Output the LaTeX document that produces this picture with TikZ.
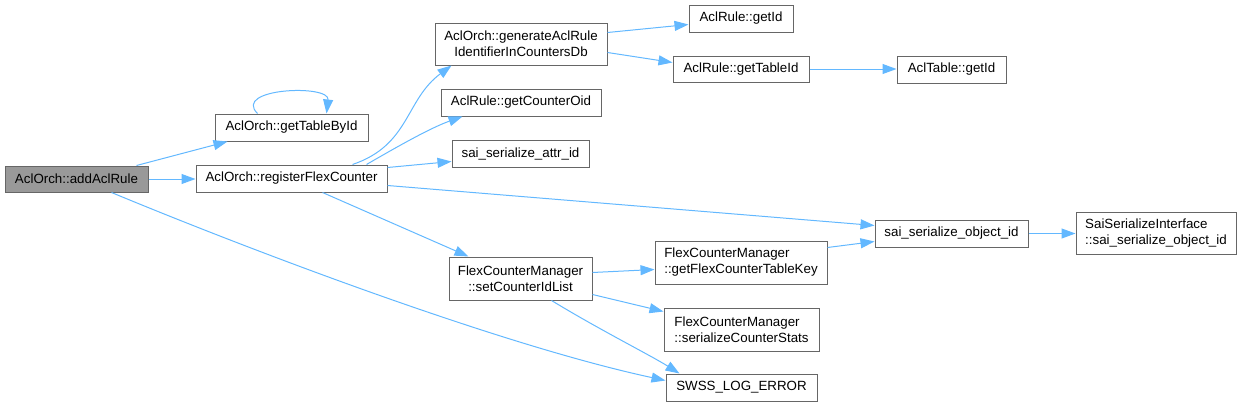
\documentclass[tikz,border=0pt]{standalone}
\usepackage{fontspec}
\setmainfont{Liberation Sans}
\usetikzlibrary{arrows.meta,calc}
\definecolor{edgeblue}{HTML}{63B8FF}
\definecolor{boxborder}{HTML}{666666}
\definecolor{rootfill}{HTML}{999999}
\tikzset{
  fn/.style={draw=boxborder, fill=white, line width=0.75pt, inner sep=0pt, font=\fontsize{10pt}{12pt}\selectfont, text=black},
  rootfn/.style={fn, fill=rootfill},
  call/.style={draw=edgeblue, line width=0.75pt, -{Triangle[length=10.5pt,width=7.5pt]}},
}
\begin{document}
\begin{tikzpicture}[x=0.75pt,y=-0.75pt]
\useasboundingbox (0,0) rectangle (1242,407);
% nodes
\node[rootfn, minimum width=107.25pt, minimum height=19.5pt] (add) at (76.5,179) {AclOrch::addAclRule};
\node[fn, minimum width=114.75pt, minimum height=20.25pt] (gtb) at (291.5,127.5) {AclOrch::getTableById};
\node[fn, minimum width=143.25pt, minimum height=20.25pt] (reg) at (291.5,178.5) {AclOrch::registerFlexCounter};
\node[fn, minimum width=129pt, minimum height=31.5pt, align=center] (gen) at (521,44) {AclOrch::generateAclRule\\IdentifierInCountersDb};
\node[fn, minimum width=120pt, minimum height=20.25pt] (gco) at (521,102.5) {AclRule::getCounterOid};
\node[fn, minimum width=102.75pt, minimum height=20.25pt] (attr) at (520.5,153.5) {sai\_serialize\_attr\_id};
\node[fn, minimum width=107.25pt, minimum height=32.25pt, align=center] (sci) at (520.5,278.5) {FlexCounterManager\\::setCounterIdList};
\node[fn, minimum width=78pt, minimum height=20.25pt] (rid) at (741,18.5) {AclRule::getId};
\node[fn, minimum width=102pt, minimum height=19.5pt] (rtid) at (741,69) {AclRule::getTableId};
\node[fn, minimum width=129pt, minimum height=32.25pt, align=left] (fctk) at (741,262.5) {FlexCounterManager\\::getFlexCounterTableKey};
\node[fn, minimum width=116.25pt, minimum height=32.25pt, align=left] (scs) at (741.5,329.5) {FlexCounterManager\\::serializeCounterStats};
\node[fn, minimum width=113.25pt, minimum height=20.25pt] (swss) at (741.5,387.5) {SWSS\_LOG\_ERROR};
\node[fn, minimum width=81.75pt, minimum height=20.25pt] (tid) at (951.5,69.5) {AclTable::getId};
\node[fn, minimum width=114.75pt, minimum height=20.25pt] (obj) at (951.5,233.5) {sai\_serialize\_object\_id};
\node[fn, minimum width=120pt, minimum height=31.5pt, align=left] (ssi) at (1156,233) {SaiSerializeInterface\\::sai\_serialize\_object\_id};
% edges
\draw[call] ($(add.north west)+(132,0)$) -- ($(gtb.south west)+(13,0)$);
\draw[call] (add.east) -- (reg.west |- add.east);
\draw[call] ($(add.south west)+(107,0)$) .. controls (250,250) and (500,345) .. ($(swss.north west)+(0,7)$);
\draw[call] ($(gtb.north west)+(43,0)$) .. controls (232,88) and (330,84) .. ($(gtb.north west)+(112,0)$);
\draw[call] ($(reg.north west)+(157,0)$) .. controls (410,145) and (405,100) .. ($(gen.south west)+(17,0)$);
\draw[call] ($(reg.north west)+(171,0)$) .. controls (395,148) and (430,128) .. ($(gco.south west)+(22,0)$);
\draw[call] ($(reg.north east)+(0,3)$) -- ($(attr.north west)+(0,22)$);
\draw[call] ($(reg.north east)+(0,21)$) -- ($(obj.north west)+(0,6)$);
\draw[call] ($(reg.south west)+(127,0)$) -- ($(sci.north west)+(20,0)$);
\draw[call] ($(gen.north east)+(0,10)$) -- ($(rid.north west)+(0,20)$);
\draw[call] ($(gen.north east)+(0,30)$) -- ($(rtid.north west)+(0,7)$);
\draw[call] (rtid.east) -- (tid.west |- rtid.east);
\draw[call] ($(sci.north east)+(0,16)$) -- ($(fctk.north west)+(0,29)$);
\draw[call] ($(sci.north east)+(0,38)$) -- ($(scs.north west)+(0,4)$);
\draw[call] ($(sci.south west)+(103,0)$) .. controls (600,330) and (650,355) .. ($(swss.north west)+(14,0)$);
\draw[call] ($(fctk.north east)+(0,7)$) -- ($(obj.north west)+(0,22)$);
\draw[call] (obj.east) -- (ssi.west |- obj.east);
\end{tikzpicture}
\end{document}
